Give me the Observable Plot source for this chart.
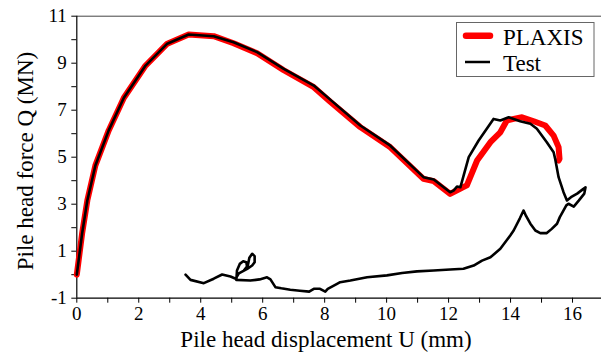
<!DOCTYPE html>
<html>
<head>
<meta charset="utf-8">
<script src="https://cdn.jsdelivr.net/npm/d3@7"></script>
<script src="https://cdn.jsdelivr.net/npm/@observablehq/plot@0.6"></script>
<style>
  html, body { margin: 0; padding: 0; background: #fff; }
  #chart { width: 601px; height: 362px; }
</style>
</head>
<body>
<div id="chart"></div>
<script>
// ---- data ----
const plaxisU = [0, 0.17, 0.34, 0.60, 1.03, 1.52, 2.22, 2.92, 3.61, 4.42, 5.06, 5.82, 6.68, 7.65, 8.18, 9.15, 10.12, 11.19, 11.52, 12.05, 12.43, 12.59, 12.92, 13.35, 13.67, 13.88, 14.10, 14.37, 14.75, 15.12, 15.39, 15.55, 15.58, 15.55];
const plaxisQ = [0, 1.74, 3.16, 4.65, 6.14, 7.53, 8.90, 9.83, 10.22, 10.15, 9.85, 9.42, 8.70, 7.98, 7.36, 6.28, 5.42, 4.08, 3.98, 3.44, 3.70, 3.80, 4.86, 5.64, 6.06, 6.56, 6.63, 6.70, 6.53, 6.35, 5.92, 5.43, 4.93, 4.86];

const testU = [0, 0.17, 0.34, 0.60, 1.03, 1.52, 2.22, 2.92, 3.61, 4.42, 5.06, 5.82, 6.68, 7.65, 8.18, 9.15, 10.12, 11.19, 11.52, 12.05, 12.16, 12.27, 12.38, 12.65, 12.97, 13.45, 13.67, 13.94, 14.31, 14.64, 14.85, 15.17, 15.39, 15.44, 15.55, 15.71, 15.82,
  15.95, 16.15, 16.32, 16.42, 16.38, 16.20, 16.04, 15.87, 15.80,
  15.59, 15.50, 15.33, 15.17, 14.96, 14.80, 14.64, 14.50, 14.42, 14.30, 14.10, 13.99, 13.67, 13.35, 13.08, 12.81, 12.48, 12.05, 11.52, 10.98, 10.50, 10.01, 9.37, 8.83, 8.50, 8.40, 8.10, 8.02, 7.85, 7.65, 7.50, 7.20, 6.89, 6.60, 6.41, 6.25, 6.14, 5.90, 5.60, 5.15,
  5.17, 5.26, 5.37, 5.47, 5.50, 5.39, 5.52, 5.57, 5.66, 5.74, 5.74, 5.66, 5.50, 5.23, 5.13,
  4.96, 4.69, 4.42, 4.10, 3.67, 3.51];
const testQ = [0, 1.74, 3.16, 4.65, 6.14, 7.53, 8.90, 9.83, 10.22, 10.15, 9.89, 9.47, 8.76, 8.05, 7.45, 6.35, 5.49, 4.15, 4.05, 3.51, 3.58, 3.75, 3.72, 5.00, 5.71, 6.63, 6.56, 6.70, 6.53, 6.42, 6.21, 5.64, 5.21, 4.93, 4.15, 3.51, 3.16,
  3.30, 3.45, 3.62, 3.72, 3.45, 3.15, 2.90, 3.02, 2.95,
  2.45, 2.17, 1.95, 1.77, 1.77, 1.88, 2.17, 2.50, 2.73, 2.40, 1.88, 1.67, 1.10, 0.74, 0.60, 0.39, 0.25, 0.22, 0.18, 0.14, 0.07, -0.03, -0.11, -0.25, -0.32, -0.39, -0.60, -0.72, -0.60, -0.60, -0.72, -0.68, -0.64, -0.58, -0.53, -0.20, -0.11, -0.20, -0.25, -0.22,
  0.18, 0.46, 0.57, 0.53, 0.32, 0.18, 0.39, 0.72, 0.89, 0.79, 0.53, 0.39, 0.25, 0.06, -0.17,
  -0.08, 0.01, -0.17, -0.36, -0.22, 0.00];

const xTicks = [0, 1, 2, 3, 4, 5, 6, 7, 8, 9, 10, 11, 12, 13, 14, 15, 16, 17];
const yTicks = [-1, 0, 1, 2, 3, 4, 5, 6, 7, 8, 9, 10, 11];
const seriesNames = ["PLAXIS", "Test"];
const xTitle = "Pile head displacement U (mm)";
const yTitle = "Pile head force Q (MN)";

// ---- build tables ----
const plaxis = plaxisU.map((u, i) => ({u, q: plaxisQ[i]}));
const test = testU.map((u, i) => ({u, q: testQ[i]}));

const font = "'Liberation Serif', 'Times New Roman', serif";

const chart = Plot.plot({
  width: 601,
  height: 362,
  marginLeft: 76.3,
  marginRight: -2,
  marginTop: 15.7,
  marginBottom: 64.3,
  style: {fontFamily: font, background: "#fff", color: "#000"},
  x: {domain: [0, 17], range: [76.3, 603]},
  y: {domain: [-1, 11], range: [297.7, 15.7]},
  marks: [
    Plot.ruleY([11], {stroke: "#444", strokeWidth: 1}),
    Plot.axisX({ticks: xTicks, tickSize: 5, tickPadding: 3, fontSize: 19, label: null,
      tickFormat: d => (d % 2 === 0 ? String(d) : "")}),
    Plot.axisY({ticks: yTicks, tickSize: 5, tickPadding: 5, fontSize: 19, label: null,
      tickFormat: d => (Math.abs(d) % 2 === 1 ? String(d) : "")}),
    Plot.ruleY([-1], {stroke: "#000", strokeWidth: 1.2}),
    Plot.ruleX([0], {stroke: "#000", strokeWidth: 1.2}),
    Plot.line(plaxis, {x: "u", y: "q", stroke: "#ff0000", strokeWidth: 6, strokeLinejoin: "round", strokeLinecap: "round"}),
    Plot.line(test, {x: "u", y: "q", stroke: "#000", strokeWidth: 2.6, strokeLinejoin: "round", strokeLinecap: "round"})
  ]
});

const svg = d3.select(chart);
// axis titles
svg.append("text")
  .attr("x", 326).attr("y", 347)
  .attr("text-anchor", "middle")
  .attr("font-family", font).attr("font-size", 23).attr("fill", "#000")
  .text(xTitle);
svg.append("text")
  .attr("transform", "translate(33,161) rotate(-90)")
  .attr("text-anchor", "middle")
  .attr("font-family", font).attr("font-size", 23).attr("fill", "#000")
  .text(yTitle);

// legend
const lg = svg.append("g").attr("text-anchor", "start");
lg.append("rect").attr("x", 456.5).attr("y", 22.5).attr("width", 137.5).attr("height", 54)
  .attr("fill", "#fff").attr("stroke", "#666").attr("stroke-width", 1);
lg.append("line").attr("x1", 466).attr("x2", 490).attr("y1", 35.7).attr("y2", 35.7)
  .attr("stroke", "#ff0000").attr("stroke-width", 6.5).attr("stroke-linecap", "round");
lg.append("line").attr("x1", 465).attr("x2", 490).attr("y1", 62).attr("y2", 62)
  .attr("stroke", "#000").attr("stroke-width", 2.5);
lg.append("text").attr("x", 503).attr("y", 44.5).attr("text-anchor", "start")
  .attr("font-family", font).attr("font-size", 23).attr("fill", "#000").text(seriesNames[0]);
lg.append("text").attr("x", 503).attr("y", 71).attr("text-anchor", "start")
  .attr("font-family", font).attr("font-size", 23).attr("fill", "#000").text(seriesNames[1]);

document.getElementById("chart").appendChild(chart);
</script>
</body>
</html>
